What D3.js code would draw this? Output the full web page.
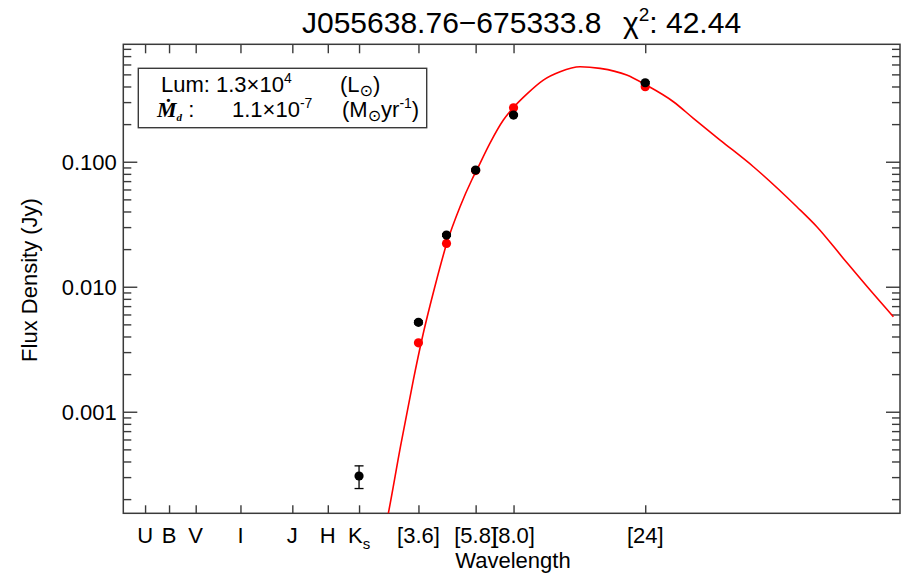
<!DOCTYPE html>
<html>
<head>
<meta charset="utf-8">
<script src="https://cdn.jsdelivr.net/npm/d3@7"></script>
<style>
  html, body { margin: 0; padding: 0; background: #fff; }
  svg { display: block; }
  text { font-family: "Liberation Sans", Arial, Helvetica, sans-serif; fill: #000; }
</style>
</head>
<body>
<svg id="chart" width="901" height="576"></svg>
<script>
// ---------------- data ----------------
const titleName = "J055638.76\u2212675333.8";
const chi2Value = "42.44";

const xTickLabels = ["U", "B", "V", "I", "J", "H", "K", "[3.6]", "[5.8]", "[8.0]", "[24]"];
const xTickWaves  = [0.36, 0.44, 0.55, 0.80, 1.235, 1.662, 2.159, 3.55, 5.73, 7.87, 23.7];

const yTickValues = [0.001, 0.01, 0.1];
const yTickLabels = ["0.001", "0.010", "0.100"];

// observed photometry (black, with error bars)
const obsWave = [2.159, 3.55, 4.49, 5.73, 7.87, 23.7];
const obsFlux = [3.06e-4, 5.19e-3, 0.0259, 0.0858, 0.2364, 0.4285];
const obsErr  = [6.3e-5, 1.5e-4, 6e-4, 1.5e-3, 4e-3, 8e-3];

// model photometry (red points)
const modWave = [3.55, 4.49, 5.73, 7.87, 23.7];
const modFlux = [3.56e-3, 0.0222, 0.085, 0.2704, 0.398];

// model SED (red curve)
const sedWave = [2.684, 2.759, 3.056, 3.401, 3.643, 4.078, 4.499, 5.029, 5.546, 5.783, 6.463, 7.227, 7.859, 8.79, 10.10, 11.62, 13.73, 16.24, 20.30, 23.87, 30.0, 35.47, 44.36, 58.61, 84.3, 99.7, 124.5, 155.7, 189.3];
const sedFlux = [1.131e-4, 1.539e-4, 5.315e-4, 1.793e-3, 3.678e-3, 0.01013, 0.02224, 0.04365, 0.0714, 0.0858, 0.1411, 0.2157, 0.2714, 0.3478, 0.4503, 0.5248, 0.5754, 0.5585, 0.4938, 0.4108, 0.302, 0.2224, 0.1491, 0.0912, 0.04365, 0.0302, 0.01684, 0.00941, 0.00575];

const lumText = "1.3\u00D710", lumExp = "4";
const mdotText = "1.1\u00D710", mdotExp = "-7";

// ---------------- layout ----------------
const L = 123.3, R = 900, T = 44.3, B = 513.3;
const axisColor = "#3a3a3a";
const FS = 22;

const svg = d3.select("#chart");

const x = d3.scaleLog().domain([0.3, 200]).range([L, R]);
const y = d3.scaleLog().domain([1.54e-4, 0.87]).range([B, T]);

svg.append("clipPath").attr("id", "plotclip")
  .append("rect").attr("x", L).attr("y", T).attr("width", R - L).attr("height", B - T);

// ---------------- axes ----------------
const yMinor = [];
for (let e = -4; e <= 0; e++) {
  for (let m = 2; m <= 9; m++) {
    const v = m * Math.pow(10, e);
    if (v >= y.domain()[0] && v <= y.domain()[1]) yMinor.push(v);
  }
}

const leftAxis = d3.axisLeft(y).tickValues(yTickValues).tickFormat((d, i) => yTickLabels[i]).tickSizeInner(-14).tickSizeOuter(0).tickPadding(7);
const gL = svg.append("g").attr("transform", `translate(${L},0)`).call(leftAxis);
const gLm = svg.append("g").attr("transform", `translate(${L},0)`).call(d3.axisLeft(y).tickValues(yMinor).tickFormat("").tickSizeInner(-8).tickSizeOuter(0));
const gR = svg.append("g").attr("transform", `translate(${R},0)`).call(d3.axisRight(y).tickValues(yTickValues).tickFormat("").tickSizeInner(-14).tickSizeOuter(0));
const gRm = svg.append("g").attr("transform", `translate(${R},0)`).call(d3.axisRight(y).tickValues(yMinor).tickFormat("").tickSizeInner(-8).tickSizeOuter(0));
const gB = svg.append("g").attr("transform", `translate(0,${B})`).call(d3.axisBottom(x).tickValues(xTickWaves).tickFormat("").tickSizeInner(-8).tickSizeOuter(0));
const gT = svg.append("g").attr("transform", `translate(0,${T})`).call(d3.axisTop(x).tickValues(xTickWaves).tickFormat("").tickSizeInner(-9).tickSizeOuter(0));

[gL, gLm, gR, gRm, gB, gT].forEach(g => {
  g.select(".domain").remove();
  g.selectAll(".tick line").attr("stroke", axisColor).attr("stroke-width", 1.4);
});
gL.selectAll(".tick text").attr("font-size", FS).attr("font-family", "Liberation Sans, Arial, sans-serif").attr("fill", "#000").attr("dy", "0.36em").attr("x", -6.5);

svg.append("rect").attr("x", L).attr("y", T).attr("width", R - L).attr("height", B - T)
  .attr("fill", "none").attr("stroke", axisColor).attr("stroke-width", 1.5);

// x tick labels
const xl = svg.append("g");
xTickWaves.forEach((w, i) => {
  const t = xl.append("text").attr("x", x(w)).attr("y", B + 30).attr("text-anchor", "middle").attr("font-size", FS);
  t.append("tspan").text(xTickLabels[i]);
  if (xTickLabels[i] === "K") {
    t.append("tspan").attr("font-size", 15).attr("dy", 6).text("s");
  }
});

// axis titles
svg.append("text").attr("x", 513).attr("y", 568).attr("text-anchor", "middle").attr("font-size", FS).text("Wavelength");
svg.append("text").attr("transform", `translate(36.5,280) rotate(-90)`).attr("text-anchor", "middle").attr("font-size", FS).text("Flux Density (Jy)");

// title
svg.append("text").attr("x", 302).attr("y", 33).attr("font-size", 30).text(titleName);
const t2 = svg.append("text").attr("x", 623).attr("y", 33).attr("font-size", 30);
t2.append("tspan").text("\u03C7");
t2.append("tspan").attr("font-size", 19).attr("dy", -12).text("2");
t2.append("tspan").attr("dy", 12).text(": " + chi2Value);

// ---------------- marks ----------------
const plot = svg.append("g").attr("clip-path", "url(#plotclip)");

const line = d3.line().x((d, i) => x(sedWave[i])).y((d, i) => y(sedFlux[i])).curve(d3.curveMonotoneX);
plot.append("path").attr("d", line(sedWave)).attr("fill", "none").attr("stroke", "#ff0000").attr("stroke-width", 1.6);

plot.selectAll("circle.mod").data(modWave).enter().append("circle").attr("class", "mod")
  .attr("cx", (d) => x(d)).attr("cy", (d, i) => y(modFlux[i])).attr("r", 4.6).attr("fill", "#ff0000");

const eb = plot.append("g").attr("stroke", "#000").attr("stroke-width", 1.3);
obsWave.forEach((w, i) => {
  const cx = x(w), y1 = y(obsFlux[i] + obsErr[i]), y2 = y(obsFlux[i] - obsErr[i]);
  eb.append("line").attr("x1", cx).attr("x2", cx).attr("y1", y1).attr("y2", y2);
  eb.append("line").attr("x1", cx - 4.5).attr("x2", cx + 4.5).attr("y1", y1).attr("y2", y1);
  eb.append("line").attr("x1", cx - 4.5).attr("x2", cx + 4.5).attr("y1", y2).attr("y2", y2);
});

plot.selectAll("circle.obs").data(obsWave).enter().append("circle").attr("class", "obs")
  .attr("cx", (d) => x(d)).attr("cy", (d, i) => y(obsFlux[i])).attr("r", 4.6).attr("fill", "#000");

// ---------------- legend box ----------------
svg.append("rect").attr("x", 138.3).attr("y", 68.3).attr("width", 288.4).attr("height", 59.4)
  .attr("fill", "#fff").attr("stroke", axisColor).attr("stroke-width", 1.4);

const l1 = svg.append("text").attr("x", 161).attr("y", 92).attr("font-size", FS);
l1.append("tspan").text("Lum: " + lumText);
l1.append("tspan").attr("font-size", 14).attr("dy", -9).text(lumExp);
const l1b = svg.append("text").attr("x", 340).attr("y", 92).attr("font-size", FS);
l1b.append("tspan").text("(L");
l1b.append("tspan").attr("font-size", 16).attr("dy", 4).attr("font-family", "DejaVu Sans").text("\u2299");
l1b.append("tspan").attr("dy", -4).text(")");

const l2 = svg.append("text").attr("x", 157).attr("y", 117).attr("font-size", FS);
l2.append("tspan").attr("font-family", "Liberation Serif, Times New Roman, serif").attr("font-style", "italic").attr("font-weight", "bold").text("\u1E40");
l2.append("tspan").attr("font-family", "Liberation Serif, Times New Roman, serif").attr("font-style", "italic").attr("font-weight", "bold").attr("font-size", 11).attr("dy", 4).text("d");
l2.append("tspan").attr("dy", -4).text(" :");
const l2b = svg.append("text").attr("x", 232).attr("y", 117).attr("font-size", FS);
l2b.append("tspan").text(mdotText);
l2b.append("tspan").attr("font-size", 14).attr("dy", -9).text(mdotExp);
const l2c = svg.append("text").attr("x", 342).attr("y", 117).attr("font-size", FS);
l2c.append("tspan").text("(M");
l2c.append("tspan").attr("font-size", 16).attr("dy", 4).attr("font-family", "DejaVu Sans").text("\u2299");
l2c.append("tspan").attr("dy", -4).text("yr");
l2c.append("tspan").attr("font-size", 14).attr("dy", -9).text("-1");
l2c.append("tspan").attr("dy", 9).text(")");
</script>
</body>
</html>
